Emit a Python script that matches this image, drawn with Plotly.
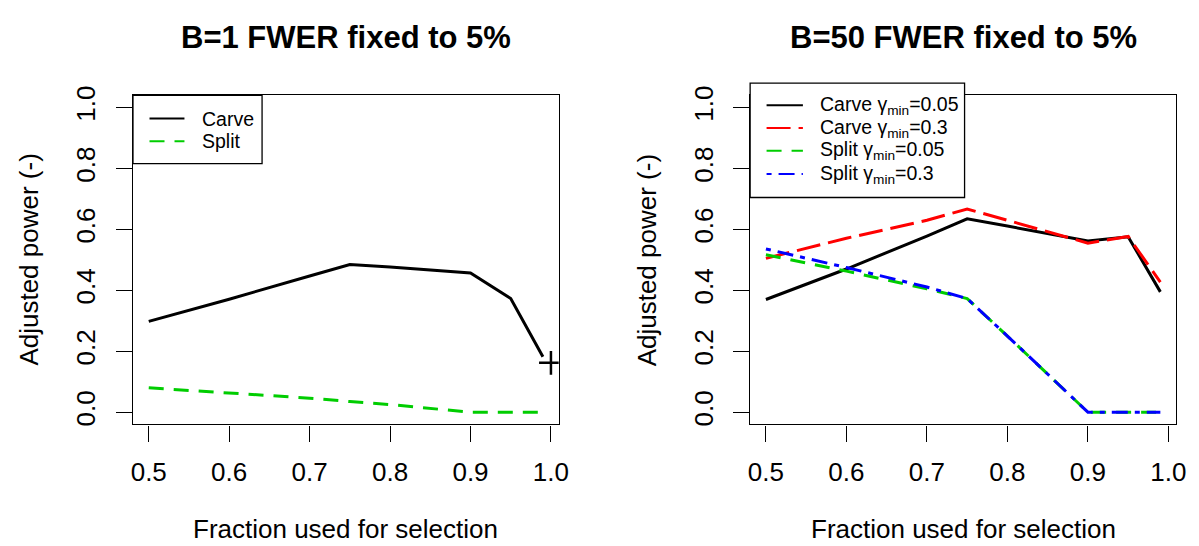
import plotly.graph_objects as go

# ---------------- data ----------------
frac = [0.5, 0.6, 0.7, 0.75, 0.8, 0.9, 0.95, 0.99]

# B = 1
carve_b1 = [0.298, 0.371, 0.447, 0.485, 0.477, 0.457, 0.373, 0.182]
split_b1 = [0.080, 0.064, 0.046, 0.035, 0.025, 0.0, 0.0, 0.0]
full_x = [1.0]
full_y = [0.162]

# B = 50
carve_005 = [0.370, 0.470, 0.578, 0.635, 0.611, 0.562, 0.576, 0.395]
carve_03 = [0.505, 0.571, 0.630, 0.667, 0.630, 0.555, 0.577, 0.427]
split_005 = [0.517, 0.463, 0.405, 0.373, 0.250, 0.0, 0.0, 0.0]
split_03 = [0.536, 0.475, 0.411, 0.373, 0.250, 0.0, 0.0, 0.0]

xticks = [0.5, 0.6, 0.7, 0.8, 0.9, 1.0]
yticks = [0.0, 0.2, 0.4, 0.6, 0.8, 1.0]
titles = ["B=1 FWER fixed to 5%", "B=50 FWER fixed to 5%"]
xlabel = "Fraction used for selection"
ylabel = "Adjusted power (-)"
g = "γ<sub>min</sub>"
names_left = ["Carve", "Split"]
names_right = [f"Carve {g}=0.05", f"Carve {g}=0.3", f"Split {g}=0.05", f"Split {g}=0.3"]

W, H = 1199, 546
FONT = "Liberation Sans, Arial, sans-serif"
GREEN = "#00CD00"
LW = 3
DASH_SOLID = "solid"
DASH_DASHED = "15px,10px"
DASH_LONG = "24px,8px"
DASH_DOTDASH = "5px,7px,16px,7px"

styles_left = [("black", DASH_SOLID), (GREEN, DASH_DASHED)]
styles_right = [("black", DASH_SOLID), ("red", DASH_LONG), (GREEN, DASH_DASHED), ("blue", DASH_DOTDASH)]

fig = go.Figure()

# left panel
for yv, nm, (c, d) in zip([carve_b1, split_b1], names_left, styles_left):
    fig.add_trace(go.Scatter(x=frac, y=yv, mode="lines", name=nm, showlegend=False,
                             line=dict(color=c, width=LW, dash=d), xaxis="x", yaxis="y"))
fig.add_trace(go.Scatter(x=full_x, y=full_y, mode="markers", showlegend=False,
                         marker=dict(symbol="cross-thin", size=17, color="black",
                                     line=dict(color="black", width=2.5)),
                         xaxis="x", yaxis="y"))

# right panel
for yv, nm, (c, d) in zip([carve_005, carve_03, split_005, split_03], names_right, styles_right):
    fig.add_trace(go.Scatter(x=frac, y=yv, mode="lines", name=nm, showlegend=False,
                             line=dict(color=c, width=LW, dash=d), xaxis="x2", yaxis="y2"))

ydom = [(H - 423.7) / H, (H - 87.3) / H]
xdom1 = [132.3 / W, 562.3 / W]
xdom2 = [755.7 / W, 1186.0 / W]


def xax(dom, anchor):
    return dict(domain=dom, anchor=anchor, range=[0.4804, 1.0096], tickvals=xticks,
                ticktext=[f"{v:.1f}" for v in xticks], showgrid=False, zeroline=False,
                showline=True, linecolor="black", linewidth=1.3, mirror=True,
                ticks="outside", ticklen=16, tickwidth=1.3, tickcolor="black",
                tickfont=dict(family=FONT, size=26, color="black"),
                ticklabelstandoff=8)


def yax(anchor):
    return dict(domain=ydom, anchor=anchor, range=[-0.04, 1.04], tickvals=yticks,
                ticktext=[f"{v:.1f}" for v in yticks], showgrid=False, zeroline=False,
                showline=True, linecolor="black", linewidth=1.3, mirror=True,
                ticks="outside", ticklen=16, tickwidth=1.3, tickcolor="black",
                tickangle=-90, tickfont=dict(family=FONT, size=26, color="black"),
                ticklabelstandoff=10)


def px_x(v):
    return v / W


def px_y(v):
    return (H - v) / H


annotations = []
shapes = []
for dom, t in zip([xdom1, xdom2], titles):
    cx = (dom[0] + dom[1]) / 2
    annotations.append(dict(text=f"<b>{t}</b>", x=cx, y=px_y(28), xref="paper", yref="paper",
                            xanchor="center", yanchor="middle", showarrow=False,
                            font=dict(family=FONT, size=31, color="black")))
    annotations.append(dict(text=xlabel, x=cx, y=px_y(531), xref="paper", yref="paper",
                            xanchor="center", yanchor="middle", showarrow=False,
                            font=dict(family=FONT, size=26, color="black")))
for px in [27, 651]:
    annotations.append(dict(text=ylabel, x=px_x(px), y=(ydom[0] + ydom[1]) / 2, xref="paper",
                            yref="paper", xanchor="center", yanchor="middle", showarrow=False,
                            textangle=-90, font=dict(family=FONT, size=26, color="black")))


# legends (box, key lines, labels)
def add_legend(box, rows, line_x, text_x, names, styles):
    x0, x1, y0, y1 = box
    shapes.append(dict(type="rect", xref="paper", yref="paper",
                       x0=px_x(x0), x1=px_x(x1), y0=px_y(y1), y1=px_y(y0),
                       line=dict(color="black", width=1.3), fillcolor="white", layer="above"))
    for ry, nm, (c, d) in zip(rows, names, styles):
        shapes.append(dict(type="line", xref="paper", yref="paper",
                           x0=px_x(line_x[0]), x1=px_x(line_x[1]), y0=px_y(ry), y1=px_y(ry),
                           line=dict(color=c, width=2, dash=d), layer="above"))
        annotations.append(dict(text=nm, x=px_x(text_x), y=px_y(ry), xref="paper", yref="paper",
                                xanchor="left", yanchor="middle", showarrow=False,
                                font=dict(family=FONT, size=19.5, color="black")))


add_legend((132.3, 262.7, 87.3, 157.0), [111.0, 134.3], (149.0, 184.3), 200.0,
           names_left, styles_left)
add_legend((755.7, 972.3, 74.7, 191.7), [97.3, 120.7, 144.0, 167.7], (772.3, 809.0), 824.0,
           names_right, styles_right)

fig.update_layout(
    width=W, height=H,
    margin=dict(l=0, r=0, t=0, b=0),
    paper_bgcolor="white", plot_bgcolor="white",
    xaxis=xax(xdom1, "y"), yaxis=yax("x"),
    xaxis2=xax(xdom2, "y2"), yaxis2=yax("x2"),
    annotations=annotations,
    shapes=shapes,
    showlegend=False,
)

fig.write_html("out.html", config={"displayModeBar": False},
               post_script="document.body.style.margin='0px';")
